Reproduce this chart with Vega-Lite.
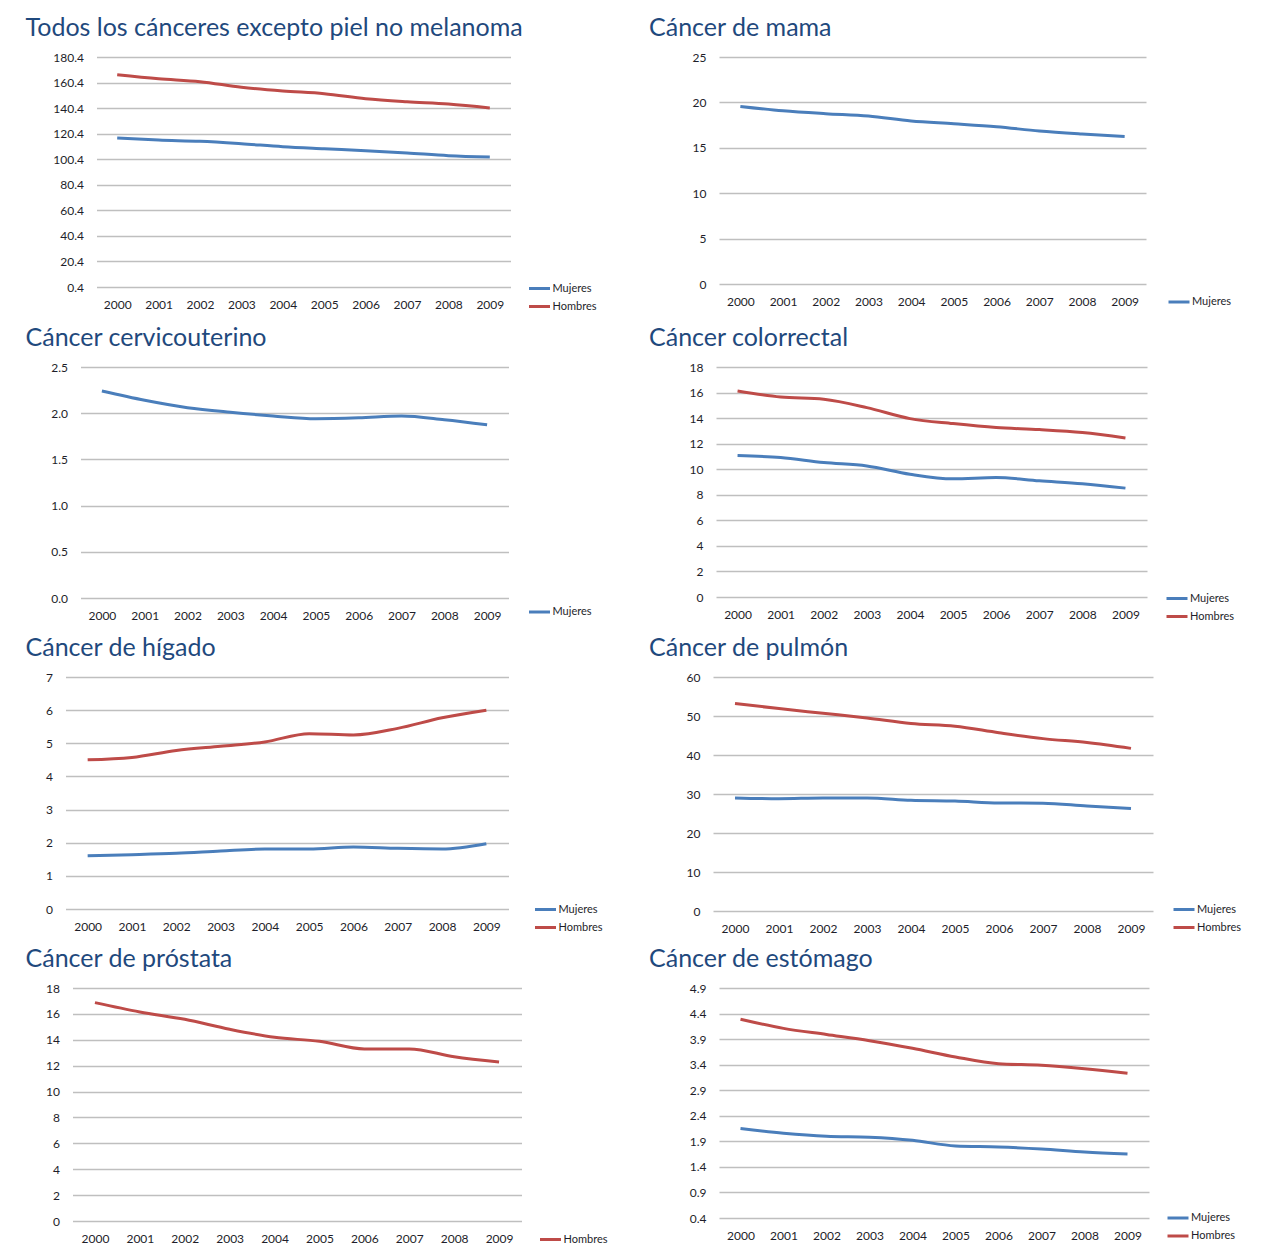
{
  "$schema": "https://vega.github.io/schema/vega-lite/v6.json",
  "padding": {"left": -38, "top": 16, "right": 0, "bottom": 0},
  "background": "white",
  "bounds": "full",
  "spacing": 13,
  "resolve": {"scale": {"color": "independent"}, "legend": {"color": "independent"}},
  "config": {
    "view": {"stroke": null},
    "title": {"anchor": "start", "frame": "group", "font": "Lato", "fontSize": 25, "fontWeight": "normal", "color": "#1F497D", "offset": 10},
    "axis": {"domain": false, "ticks": false, "labelFont": "Lato", "labelFontSize": 12, "labelColor": "#1E1E2A", "gridColor": "#BFBFBF", "gridWidth": 1.5},
    "axisX": {"grid": false, "labelAngle": 0, "labelPadding": 12},
    "axisY": {"grid": true, "labelPadding": 13},
    "legend": {"orient": "none", "padding": 0, "symbolType": "stroke", "symbolSize": 441, "symbolStrokeWidth": 2.5, "labelFont": "Lato", "labelFontSize": 11, "labelColor": "#1E1E2A", "rowPadding": 0, "labelOffset": 1},
    "line": {"interpolate": "monotone", "strokeWidth": 3}
  },
  "datasets": {
    "todos": [
      {"a": "2000", "s": "Hombres", "v": 166.5}, {"a": "2001", "s": "Hombres", "v": 163.4}, {"a": "2002", "s": "Hombres", "v": 161.1}, {"a": "2003", "s": "Hombres", "v": 156.7}, {"a": "2004", "s": "Hombres", "v": 153.8},
      {"a": "2005", "s": "Hombres", "v": 151.7}, {"a": "2006", "s": "Hombres", "v": 147.8}, {"a": "2007", "s": "Hombres", "v": 145.4}, {"a": "2008", "s": "Hombres", "v": 143.6}, {"a": "2009", "s": "Hombres", "v": 140.5},
      {"a": "2000", "s": "Mujeres", "v": 117.0}, {"a": "2001", "s": "Mujeres", "v": 115.4}, {"a": "2002", "s": "Mujeres", "v": 114.4}, {"a": "2003", "s": "Mujeres", "v": 112.5}, {"a": "2004", "s": "Mujeres", "v": 110.2},
      {"a": "2005", "s": "Mujeres", "v": 108.6}, {"a": "2006", "s": "Mujeres", "v": 107.1}, {"a": "2007", "s": "Mujeres", "v": 105.3}, {"a": "2008", "s": "Mujeres", "v": 103.2}, {"a": "2009", "s": "Mujeres", "v": 102.1}
    ],
    "mama": [
      {"a": "2000", "s": "Mujeres", "v": 19.56}, {"a": "2001", "s": "Mujeres", "v": 19.08}, {"a": "2002", "s": "Mujeres", "v": 18.76}, {"a": "2003", "s": "Mujeres", "v": 18.5}, {"a": "2004", "s": "Mujeres", "v": 17.95},
      {"a": "2005", "s": "Mujeres", "v": 17.65}, {"a": "2006", "s": "Mujeres", "v": 17.32}, {"a": "2007", "s": "Mujeres", "v": 16.85}, {"a": "2008", "s": "Mujeres", "v": 16.52}, {"a": "2009", "s": "Mujeres", "v": 16.25}
    ],
    "cervico": [
      {"a": "2000", "s": "Mujeres", "v": 2.24}, {"a": "2001", "s": "Mujeres", "v": 2.14}, {"a": "2002", "s": "Mujeres", "v": 2.06}, {"a": "2003", "s": "Mujeres", "v": 2.01}, {"a": "2004", "s": "Mujeres", "v": 1.97},
      {"a": "2005", "s": "Mujeres", "v": 1.94}, {"a": "2006", "s": "Mujeres", "v": 1.95}, {"a": "2007", "s": "Mujeres", "v": 1.97}, {"a": "2008", "s": "Mujeres", "v": 1.93}, {"a": "2009", "s": "Mujeres", "v": 1.875}
    ],
    "colorrectal": [
      {"a": "2000", "s": "Hombres", "v": 16.12}, {"a": "2001", "s": "Hombres", "v": 15.65}, {"a": "2002", "s": "Hombres", "v": 15.47}, {"a": "2003", "s": "Hombres", "v": 14.82}, {"a": "2004", "s": "Hombres", "v": 13.96},
      {"a": "2005", "s": "Hombres", "v": 13.57}, {"a": "2006", "s": "Hombres", "v": 13.26}, {"a": "2007", "s": "Hombres", "v": 13.1}, {"a": "2008", "s": "Hombres", "v": 12.87}, {"a": "2009", "s": "Hombres", "v": 12.45},
      {"a": "2000", "s": "Mujeres", "v": 11.07}, {"a": "2001", "s": "Mujeres", "v": 10.91}, {"a": "2002", "s": "Mujeres", "v": 10.52}, {"a": "2003", "s": "Mujeres", "v": 10.26}, {"a": "2004", "s": "Mujeres", "v": 9.61},
      {"a": "2005", "s": "Mujeres", "v": 9.25}, {"a": "2006", "s": "Mujeres", "v": 9.35}, {"a": "2007", "s": "Mujeres", "v": 9.09}, {"a": "2008", "s": "Mujeres", "v": 8.86}, {"a": "2009", "s": "Mujeres", "v": 8.52}
    ],
    "higado": [
      {"a": "2000", "s": "Hombres", "v": 4.50}, {"a": "2001", "s": "Hombres", "v": 4.57}, {"a": "2002", "s": "Hombres", "v": 4.78}, {"a": "2003", "s": "Hombres", "v": 4.91}, {"a": "2004", "s": "Hombres", "v": 5.04},
      {"a": "2005", "s": "Hombres", "v": 5.29}, {"a": "2006", "s": "Hombres", "v": 5.25}, {"a": "2007", "s": "Hombres", "v": 5.45}, {"a": "2008", "s": "Hombres", "v": 5.77}, {"a": "2009", "s": "Hombres", "v": 6.0},
      {"a": "2000", "s": "Mujeres", "v": 1.61}, {"a": "2001", "s": "Mujeres", "v": 1.64}, {"a": "2002", "s": "Mujeres", "v": 1.68}, {"a": "2003", "s": "Mujeres", "v": 1.75}, {"a": "2004", "s": "Mujeres", "v": 1.81},
      {"a": "2005", "s": "Mujeres", "v": 1.81}, {"a": "2006", "s": "Mujeres", "v": 1.87}, {"a": "2007", "s": "Mujeres", "v": 1.83}, {"a": "2008", "s": "Mujeres", "v": 1.81}, {"a": "2009", "s": "Mujeres", "v": 1.97}
    ],
    "pulmon": [
      {"a": "2000", "s": "Hombres", "v": 53.2}, {"a": "2001", "s": "Hombres", "v": 51.9}, {"a": "2002", "s": "Hombres", "v": 50.7}, {"a": "2003", "s": "Hombres", "v": 49.5}, {"a": "2004", "s": "Hombres", "v": 48.1},
      {"a": "2005", "s": "Hombres", "v": 47.4}, {"a": "2006", "s": "Hombres", "v": 45.7}, {"a": "2007", "s": "Hombres", "v": 44.2}, {"a": "2008", "s": "Hombres", "v": 43.2}, {"a": "2009", "s": "Hombres", "v": 41.7},
      {"a": "2000", "s": "Mujeres", "v": 29.0}, {"a": "2001", "s": "Mujeres", "v": 28.8}, {"a": "2002", "s": "Mujeres", "v": 29.0}, {"a": "2003", "s": "Mujeres", "v": 29.0}, {"a": "2004", "s": "Mujeres", "v": 28.4},
      {"a": "2005", "s": "Mujeres", "v": 28.2}, {"a": "2006", "s": "Mujeres", "v": 27.7}, {"a": "2007", "s": "Mujeres", "v": 27.65}, {"a": "2008", "s": "Mujeres", "v": 26.9}, {"a": "2009", "s": "Mujeres", "v": 26.3}
    ],
    "prostata": [
      {"a": "2000", "s": "Hombres", "v": 16.87}, {"a": "2001", "s": "Hombres", "v": 16.15}, {"a": "2002", "s": "Hombres", "v": 15.58}, {"a": "2003", "s": "Hombres", "v": 14.81}, {"a": "2004", "s": "Hombres", "v": 14.19},
      {"a": "2005", "s": "Hombres", "v": 13.88}, {"a": "2006", "s": "Hombres", "v": 13.29}, {"a": "2007", "s": "Hombres", "v": 13.29}, {"a": "2008", "s": "Hombres", "v": 12.69}, {"a": "2009", "s": "Hombres", "v": 12.28}
    ],
    "estomago": [
      {"a": "2000", "s": "Hombres", "v": 4.29}, {"a": "2001", "s": "Hombres", "v": 4.11}, {"a": "2002", "s": "Hombres", "v": 3.99}, {"a": "2003", "s": "Hombres", "v": 3.87}, {"a": "2004", "s": "Hombres", "v": 3.72},
      {"a": "2005", "s": "Hombres", "v": 3.55}, {"a": "2006", "s": "Hombres", "v": 3.42}, {"a": "2007", "s": "Hombres", "v": 3.39}, {"a": "2008", "s": "Hombres", "v": 3.32}, {"a": "2009", "s": "Hombres", "v": 3.23},
      {"a": "2000", "s": "Mujeres", "v": 2.15}, {"a": "2001", "s": "Mujeres", "v": 2.06}, {"a": "2002", "s": "Mujeres", "v": 2.00}, {"a": "2003", "s": "Mujeres", "v": 1.98}, {"a": "2004", "s": "Mujeres", "v": 1.92},
      {"a": "2005", "s": "Mujeres", "v": 1.81}, {"a": "2006", "s": "Mujeres", "v": 1.79}, {"a": "2007", "s": "Mujeres", "v": 1.75}, {"a": "2008", "s": "Mujeres", "v": 1.69}, {"a": "2009", "s": "Mujeres", "v": 1.65}
    ]
  },
  "vconcat": [
    {
      "spacing": 51.5,
      "bounds": "full",
      "resolve": {"scale": {"color": "independent"}, "legend": {"color": "independent"}},
      "hconcat": [
        {"width": 11.5, "height": 1, "data": {"values": []}, "mark": "point"},
        {
          "width": 414, "height": 230,
          "title": {"text": "Todos los cánceres excepto piel no melanoma", "dx": -71},
          "data": {"name": "todos"},
          "mark": "line",
          "encoding": {
            "x": {"field": "a", "type": "ordinal", "title": null},
            "y": {"field": "v", "type": "quantitative", "title": null, "scale": {"domain": [0.4, 180.4], "nice": false, "zero": false}, "axis": {"values": [0.4, 20.4, 40.4, 60.4, 80.4, 100.4, 120.4, 140.4, 160.4, 180.4], "format": ".1f"}},
            "color": {"field": "s", "type": "nominal", "scale": {"domain": ["Mujeres", "Hombres"], "range": ["#4A7EBB", "#BE4B48"]}, "legend": {"title": null, "legendX": 431, "legendY": 219.5}}
          }
        },
        {
          "width": 427, "height": 227,
          "title": {"text": "Cáncer de mama", "dx": -70},
          "data": {"name": "mama"},
          "mark": "line",
          "encoding": {
            "x": {"field": "a", "type": "ordinal", "title": null},
            "y": {"field": "v", "type": "quantitative", "title": null, "scale": {"domain": [0, 25], "nice": false}, "axis": {"values": [0, 5, 10, 15, 20, 25]}},
            "color": {"field": "s", "type": "nominal", "scale": {"domain": ["Mujeres"], "range": ["#4A7EBB"]}, "legend": {"title": null, "legendX": 448, "legendY": 233}}
          }
        }
      ]
    },
    {
      "spacing": 56.5,
      "bounds": "full",
      "resolve": {"scale": {"color": "independent"}, "legend": {"color": "independent"}},
      "hconcat": [
        {"width": 6.5, "height": 1, "data": {"values": []}, "mark": "point"},
        {
          "width": 428, "height": 231,
          "title": {"text": "Cáncer cervicouterino", "dx": -55},
          "data": {"name": "cervico"},
          "mark": "line",
          "encoding": {
            "x": {"field": "a", "type": "ordinal", "title": null},
            "y": {"field": "v", "type": "quantitative", "title": null, "scale": {"domain": [0, 2.5], "nice": false}, "axis": {"values": [0, 0.5, 1, 1.5, 2, 2.5], "format": ".1f"}},
            "color": {"field": "s", "type": "nominal", "scale": {"domain": ["Mujeres"], "range": ["#4A7EBB"]}, "legend": {"title": null, "legendX": 447, "legendY": 233}}
          }
        },
        {
          "width": 431, "height": 230,
          "title": {"text": "Cáncer colorrectal", "dx": -67},
          "data": {"name": "colorrectal"},
          "mark": "line",
          "encoding": {
            "x": {"field": "a", "type": "ordinal", "title": null},
            "y": {"field": "v", "type": "quantitative", "title": null, "scale": {"domain": [0, 18], "nice": false}, "axis": {"values": [0, 2, 4, 6, 8, 10, 12, 14, 16, 18]}},
            "color": {"field": "s", "type": "nominal", "scale": {"domain": ["Mujeres", "Hombres"], "range": ["#4A7EBB", "#BE4B48"]}, "legend": {"title": null, "legendX": 449, "legendY": 219.5}}
          }
        }
      ]
    },
    {
      "spacing": 45.5,
      "bounds": "full",
      "resolve": {"scale": {"color": "independent"}, "legend": {"color": "independent"}},
      "hconcat": [
        {"width": 17.5, "height": 1, "data": {"values": []}, "mark": "point"},
        {
          "width": 443, "height": 232,
          "title": {"text": "Cáncer de hígado", "dx": -40},
          "data": {"name": "higado"},
          "mark": "line",
          "encoding": {
            "x": {"field": "a", "type": "ordinal", "title": null},
            "y": {"field": "v", "type": "quantitative", "title": null, "scale": {"domain": [0, 7], "nice": false}, "axis": {"values": [0, 1, 2, 3, 4, 5, 6, 7]}},
            "color": {"field": "s", "type": "nominal", "scale": {"domain": ["Mujeres", "Hombres"], "range": ["#4A7EBB", "#BE4B48"]}, "legend": {"title": null, "legendX": 468, "legendY": 220.5}}
          }
        },
        {
          "width": 440, "height": 234,
          "title": {"text": "Cáncer de pulmón", "dx": -64},
          "data": {"name": "pulmon"},
          "mark": "line",
          "encoding": {
            "x": {"field": "a", "type": "ordinal", "title": null},
            "y": {"field": "v", "type": "quantitative", "title": null, "scale": {"domain": [0, 60], "nice": false}, "axis": {"values": [0, 10, 20, 30, 40, 50, 60]}},
            "color": {"field": "s", "type": "nominal", "scale": {"domain": ["Mujeres", "Hombres"], "range": ["#4A7EBB", "#BE4B48"]}, "legend": {"title": null, "legendX": 459, "legendY": 220.5}}
          }
        }
      ]
    },
    {
      "spacing": 40.5,
      "bounds": "full",
      "resolve": {"scale": {"color": "independent"}, "legend": {"color": "independent"}},
      "hconcat": [
        {"width": 22.5, "height": 1, "data": {"values": []}, "mark": "point"},
        {
          "width": 449, "height": 233,
          "title": {"text": "Cáncer de próstata", "dx": -47},
          "data": {"name": "prostata"},
          "mark": "line",
          "encoding": {
            "x": {"field": "a", "type": "ordinal", "title": null},
            "y": {"field": "v", "type": "quantitative", "title": null, "scale": {"domain": [0, 18], "nice": false}, "axis": {"values": [0, 2, 4, 6, 8, 10, 12, 14, 16, 18]}},
            "color": {"field": "s", "type": "nominal", "scale": {"domain": ["Hombres"], "range": ["#BE4B48"]}, "legend": {"title": null, "legendX": 466, "legendY": 239.5}}
          }
        },
        {
          "width": 430, "height": 230,
          "title": {"text": "Cáncer de estómago", "dx": -70},
          "data": {"name": "estomago"},
          "mark": "line",
          "encoding": {
            "x": {"field": "a", "type": "ordinal", "title": null},
            "y": {"field": "v", "type": "quantitative", "title": null, "scale": {"domain": [0.4, 4.9], "nice": false, "zero": false}, "axis": {"values": [0.4, 0.9, 1.4, 1.9, 2.4, 2.9, 3.4, 3.9, 4.4, 4.9], "format": ".1f"}},
            "color": {"field": "s", "type": "nominal", "scale": {"domain": ["Mujeres", "Hombres"], "range": ["#4A7EBB", "#BE4B48"]}, "legend": {"title": null, "legendX": 447, "legendY": 218}}
          }
        }
      ]
    }
  ]
}
